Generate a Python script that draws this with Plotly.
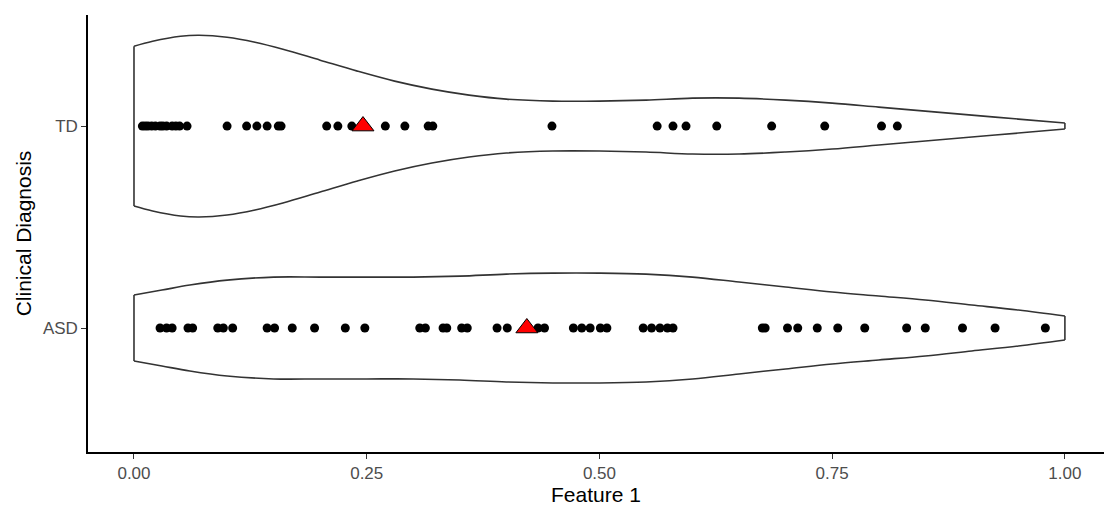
import plotly.graph_objects as go

# ---- data ----
categories = ["ASD", "TD"]
cat_pos = {"ASD": 1, "TD": 2}

td_values = [0.009, 0.012, 0.015, 0.019, 0.023, 0.028, 0.031, 0.035, 0.041, 0.045, 0.049, 0.057,
             0.100, 0.121, 0.132, 0.143, 0.155, 0.158,
             0.207, 0.219, 0.234, 0.270, 0.291, 0.316, 0.321,
             0.449, 0.562, 0.579, 0.593, 0.626, 0.685, 0.742, 0.803, 0.820]
asd_values = [0.028, 0.035, 0.041, 0.058, 0.063, 0.090, 0.096, 0.106, 0.143, 0.151, 0.170,
              0.194, 0.227, 0.248, 0.307, 0.313, 0.332, 0.336, 0.352, 0.358, 0.390, 0.401,
              0.434, 0.441, 0.472, 0.481, 0.490, 0.501, 0.508, 0.547, 0.556, 0.565, 0.573,
              0.579, 0.675, 0.678, 0.702, 0.713, 0.734, 0.756, 0.785, 0.830, 0.850, 0.890,
              0.925, 0.979]
mean_td = 0.246
mean_asd = 0.422

# violin density profiles (relative widths)
td_grid = [0.00, 0.02, 0.05, 0.07, 0.10, 0.13, 0.16, 0.20, 0.24, 0.28, 0.32, 0.36, 0.40,
           0.45, 0.50, 0.55, 0.60, 0.65, 0.70, 0.75, 0.80, 0.85, 0.90, 0.95, 1.00]
td_density = [80, 85, 90, 91, 89, 84, 77, 66, 55, 45, 37, 31, 27,
              25, 25, 26, 28, 28, 26, 23, 19, 15, 11, 7, 3]
asd_grid = [0.00, 0.03, 0.06, 0.10, 0.15, 0.20, 0.25, 0.30, 0.35, 0.40, 0.45, 0.50,
            0.55, 0.60, 0.65, 0.70, 0.75, 0.80, 0.85, 0.90, 0.95, 1.00]
asd_density = [33, 38, 43, 48, 51, 51, 51, 51, 52, 54, 55, 55,
               54, 51, 46, 41, 36, 32, 28, 23, 18, 12]
DENS_MAX_WIDTH = 0.45  # widest violin half-width in category units
dens_max = max(max(td_density), max(asd_density))

x_ticks = [0.0, 0.25, 0.5, 0.75, 1.0]
x_ticktext = ["0.00", "0.25", "0.50", "0.75", "1.00"]

FONT = "Liberation Sans, Arial, sans-serif"
OUTLINE = dict(color="#333333", width=1.6)

fig = go.Figure()

for cat, grid, dens in [("TD", td_grid, td_density), ("ASD", asd_grid, asd_density)]:
    c = cat_pos[cat]
    hw = [d / dens_max * DENS_MAX_WIDTH for d in dens]
    # white body
    xs = grid + grid[::-1] + [grid[0]]
    ys = [c + h for h in hw] + [c - h for h in hw[::-1]] + [c + hw[0]]
    fig.add_trace(go.Scatter(x=xs, y=ys, mode="lines", fill="toself", fillcolor="white",
                             line=dict(width=0, shape="spline", smoothing=1),
                             hoverinfo="skip", showlegend=False))
    # smooth upper and lower edges
    for sign in (1, -1):
        fig.add_trace(go.Scatter(x=grid, y=[c + sign * h for h in hw], mode="lines",
                                 line=dict(**OUTLINE, shape="spline", smoothing=1),
                                 hoverinfo="skip", showlegend=False))
    # straight ends
    fig.add_trace(go.Scatter(x=[grid[0], grid[0], None, grid[-1], grid[-1]],
                             y=[c - hw[0], c + hw[0], None, c - hw[-1], c + hw[-1]],
                             mode="lines", line=OUTLINE, hoverinfo="skip", showlegend=False))

for cat, vals in [("TD", td_values), ("ASD", asd_values)]:
    fig.add_trace(go.Scatter(x=vals, y=[cat_pos[cat]] * len(vals), mode="markers",
                             marker=dict(color="black", size=9), showlegend=False))

fig.add_trace(go.Scatter(x=[mean_td, mean_asd], y=[cat_pos["TD"], cat_pos["ASD"]], mode="markers",
                         marker=dict(symbol="triangle-up", color="#FF0000", size=19,
                                     line=dict(color="black", width=1)),
                         showlegend=False))

fig.update_layout(
    width=1104, height=506,
    margin=dict(l=88, r=0, t=15, b=54),
    paper_bgcolor="white", plot_bgcolor="white",
    font=dict(family=FONT),
)
fig.update_xaxes(range=[-0.0494, 1.042], tickvals=x_ticks, ticktext=x_ticktext,
                 showgrid=False, zeroline=False, showline=True, linecolor="black", linewidth=1.5,
                 ticks="outside", ticklen=5, tickcolor="#333333", tickwidth=1.2,
                 tickfont=dict(size=17, color="#4D4D4D"),
                 title=dict(text="Feature 1", font=dict(size=21, color="black"), standoff=4))
fig.update_yaxes(range=[0.386, 2.55], tickvals=[1, 2], ticktext=categories,
                 showgrid=False, zeroline=False, showline=True, linecolor="black", linewidth=1.5,
                 ticks="outside", ticklen=5, tickcolor="#333333", tickwidth=1.2,
                 tickfont=dict(size=17, color="#4D4D4D"),
                 title=dict(text="Clinical Diagnosis", font=dict(size=21, color="black"), standoff=6))

fig.write_html("out.html")
